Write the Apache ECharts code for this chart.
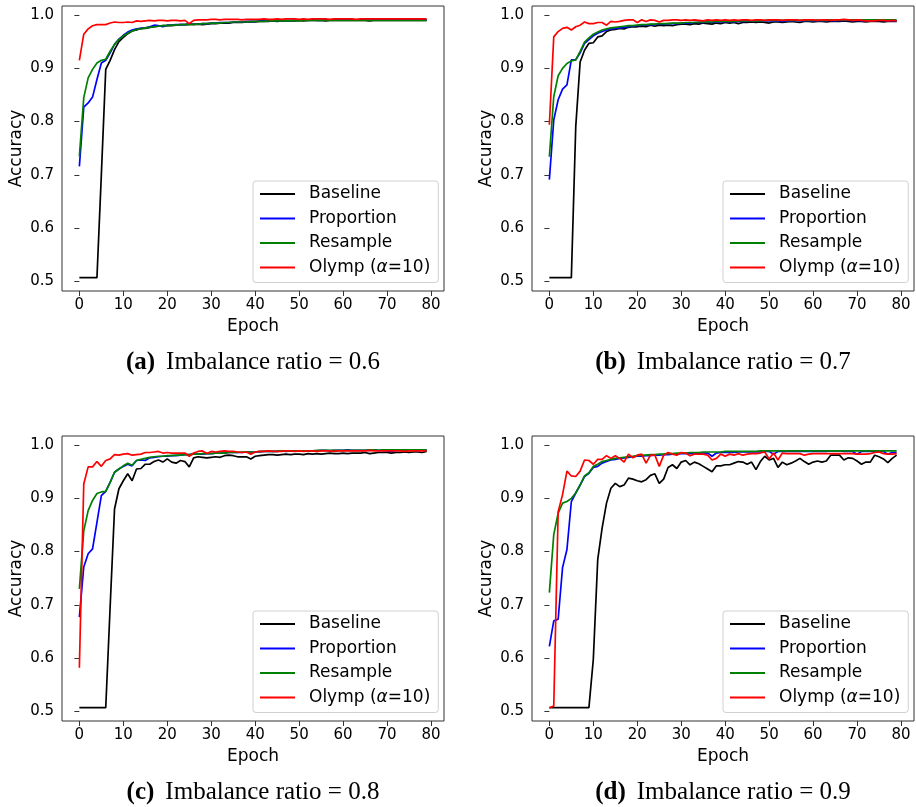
<!DOCTYPE html>
<html>
<head>
<meta charset="utf-8">
<script src="https://cdn.jsdelivr.net/npm/echarts@6/dist/echarts.min.js"></script>
<style>
  html, body { margin: 0; padding: 0; background: #fff; }
  #chart { width: 916px; height: 807px; }
</style>
</head>
<body>
<div id="chart"></div>
<script>
var seriesNames = ['Baseline', 'Proportion', 'Resample', 'Olymp (α=10)'];
var seriesColors = ['#000000', '#0000ff', '#008000', '#ff0000'];
var xTicks = [0, 10, 20, 30, 40, 50, 60, 70, 80];
var yTicks = [0.5, 0.6, 0.7, 0.8, 0.9, 1.0];

// (a) imbalance ratio 0.6
var baseA = [0.507,0.507,0.507,0.507,0.507,0.700,0.898,0.915,0.935,0.950,
  0.958,0.965,0.970,0.972,0.975,0.975,0.977,0.978,0.979,0.980,
  0.980,0.980,0.981,0.982,0.982,0.983,0.982,0.983,0.982,0.983,
  0.984,0.984,0.985,0.985,0.985,0.986,0.986,0.986,0.987,0.987,
  0.987,0.988,0.988,0.988,0.989,0.988,0.989,0.989,0.989,0.989,
  0.990,0.989,0.990,0.990,0.990,0.990,0.989,0.990,0.990,0.990,
  0.990,0.990,0.990,0.990,0.990,0.990,0.989,0.990,0.990,0.990,
  0.990,0.990,0.990,0.990,0.990,0.990,0.990,0.990,0.990,0.990];
var propA = [0.716,0.827,0.835,0.846,0.879,0.910,0.915,0.929,0.945,0.955,
  0.962,0.968,0.972,0.974,0.975,0.976,0.978,0.981,0.980,0.978,
  0.981,0.981,0.982,0.982,0.982,0.983,0.983,0.983,0.984,0.984,
  0.985,0.985,0.986,0.986,0.986,0.987,0.987,0.987,0.988,0.988,
  0.988,0.989,0.989,0.989,0.990,0.989,0.990,0.990,0.990,0.990,
  0.990,0.991,0.990,0.991,0.990,0.990,0.991,0.991,0.991,0.991,
  0.991,0.991,0.991,0.991,0.991,0.991,0.991,0.991,0.991,0.991,
  0.991,0.991,0.991,0.991,0.991,0.991,0.991,0.991,0.991,0.991];
var resA = [0.735,0.845,0.882,0.898,0.910,0.915,0.917,0.932,0.945,0.954,
  0.961,0.966,0.970,0.973,0.974,0.976,0.977,0.978,0.979,0.980,
  0.980,0.981,0.981,0.982,0.982,0.982,0.983,0.983,0.984,0.984,
  0.985,0.985,0.985,0.986,0.986,0.987,0.987,0.987,0.987,0.988,
  0.988,0.988,0.988,0.989,0.989,0.989,0.989,0.989,0.989,0.990,
  0.989,0.990,0.990,0.990,0.990,0.990,0.990,0.990,0.990,0.990,
  0.990,0.990,0.990,0.990,0.990,0.990,0.990,0.990,0.990,0.990,
  0.990,0.990,0.990,0.990,0.990,0.990,0.990,0.990,0.990,0.990];
var olyA = [0.915,0.964,0.974,0.980,0.982,0.982,0.982,0.985,0.987,0.986,
  0.986,0.987,0.986,0.989,0.988,0.989,0.990,0.989,0.990,0.990,
  0.989,0.990,0.990,0.989,0.990,0.984,0.990,0.991,0.991,0.991,
  0.992,0.992,0.991,0.992,0.992,0.992,0.992,0.991,0.992,0.992,
  0.992,0.992,0.993,0.992,0.992,0.993,0.992,0.993,0.993,0.993,
  0.992,0.993,0.992,0.993,0.993,0.993,0.993,0.992,0.993,0.993,
  0.993,0.993,0.993,0.992,0.993,0.993,0.993,0.993,0.993,0.993,
  0.993,0.993,0.993,0.993,0.993,0.993,0.993,0.993,0.993,0.993];

// (b) imbalance ratio 0.7
var baseB = [0.507,0.507,0.507,0.507,0.507,0.507,0.790,0.912,0.934,0.947,
  0.948,0.959,0.961,0.969,0.972,0.973,0.975,0.974,0.977,0.978,
  0.978,0.979,0.978,0.981,0.979,0.981,0.980,0.981,0.980,0.982,
  0.983,0.983,0.982,0.984,0.983,0.985,0.984,0.983,0.985,0.984,
  0.986,0.985,0.986,0.984,0.986,0.986,0.987,0.986,0.987,0.986,
  0.985,0.987,0.987,0.986,0.987,0.988,0.987,0.986,0.988,0.988,
  0.987,0.988,0.988,0.987,0.988,0.988,0.988,0.989,0.988,0.987,
  0.988,0.988,0.987,0.988,0.988,0.988,0.987,0.988,0.988,0.988];
var propB = [0.691,0.803,0.841,0.861,0.869,0.916,0.916,0.929,0.947,0.954,
  0.961,0.966,0.969,0.972,0.974,0.975,0.976,0.977,0.978,0.979,
  0.980,0.981,0.981,0.982,0.982,0.983,0.983,0.984,0.984,0.984,
  0.985,0.985,0.985,0.986,0.986,0.986,0.987,0.986,0.987,0.987,
  0.987,0.988,0.987,0.988,0.988,0.988,0.989,0.988,0.989,0.989,
  0.989,0.989,0.989,0.988,0.989,0.989,0.990,0.989,0.989,0.990,
  0.989,0.990,0.989,0.990,0.990,0.989,0.990,0.990,0.990,0.990,
  0.990,0.989,0.990,0.990,0.990,0.990,0.990,0.990,0.989,0.989];
var resB = [0.734,0.847,0.886,0.900,0.909,0.914,0.916,0.932,0.949,0.957,
  0.964,0.968,0.972,0.974,0.976,0.977,0.978,0.979,0.980,0.980,
  0.981,0.982,0.982,0.983,0.983,0.984,0.984,0.984,0.985,0.985,
  0.985,0.986,0.986,0.986,0.987,0.987,0.987,0.987,0.988,0.988,
  0.988,0.988,0.988,0.989,0.989,0.989,0.989,0.989,0.989,0.990,
  0.990,0.990,0.990,0.990,0.990,0.990,0.990,0.990,0.990,0.990,
  0.990,0.990,0.990,0.990,0.991,0.990,0.991,0.991,0.991,0.991,
  0.991,0.991,0.991,0.991,0.991,0.991,0.991,0.991,0.991,0.991];
var olyB = [0.794,0.959,0.969,0.975,0.977,0.972,0.978,0.981,0.987,0.984,
  0.984,0.986,0.986,0.981,0.988,0.987,0.988,0.990,0.991,0.991,
  0.986,0.991,0.988,0.991,0.990,0.987,0.990,0.990,0.991,0.991,
  0.990,0.991,0.990,0.991,0.990,0.989,0.991,0.990,0.991,0.990,
  0.991,0.990,0.991,0.990,0.991,0.991,0.990,0.991,0.991,0.990,
  0.991,0.991,0.991,0.990,0.991,0.991,0.991,0.990,0.991,0.991,
  0.991,0.990,0.991,0.991,0.990,0.991,0.991,0.992,0.991,0.990,
  0.991,0.990,0.989,0.989,0.989,0.990,0.990,0.989,0.990,0.989];

// (c) imbalance ratio 0.8
var baseC = [0.507,0.507,0.507,0.507,0.507,0.507,0.507,0.696,0.880,0.918,
  0.933,0.946,0.933,0.955,0.956,0.964,0.964,0.969,0.972,0.968,
  0.974,0.968,0.966,0.971,0.969,0.959,0.976,0.978,0.977,0.976,
  0.977,0.978,0.977,0.980,0.981,0.980,0.978,0.978,0.978,0.974,
  0.979,0.980,0.981,0.982,0.982,0.981,0.982,0.983,0.982,0.983,
  0.983,0.982,0.984,0.983,0.984,0.983,0.984,0.985,0.984,0.984,
  0.985,0.984,0.985,0.985,0.985,0.986,0.984,0.985,0.986,0.986,
  0.986,0.985,0.986,0.986,0.987,0.986,0.987,0.987,0.986,0.988];
var propC = [0.677,0.771,0.796,0.805,0.855,0.905,0.913,0.930,0.949,0.955,
  0.960,0.964,0.961,0.971,0.972,0.971,0.976,0.977,0.978,0.979,
  0.979,0.980,0.980,0.981,0.982,0.982,0.983,0.983,0.983,0.984,
  0.984,0.985,0.985,0.985,0.986,0.986,0.986,0.986,0.987,0.987,
  0.987,0.987,0.988,0.988,0.988,0.988,0.989,0.988,0.989,0.989,
  0.989,0.989,0.989,0.989,0.989,0.990,0.990,0.989,0.990,0.990,
  0.990,0.991,0.990,0.990,0.990,0.990,0.990,0.991,0.990,0.990,
  0.989,0.988,0.990,0.990,0.990,0.990,0.991,0.990,0.991,0.991];
var resC = [0.730,0.839,0.877,0.896,0.909,0.912,0.913,0.930,0.949,0.955,
  0.961,0.966,0.962,0.971,0.973,0.975,0.977,0.978,0.979,0.979,
  0.980,0.980,0.981,0.981,0.982,0.982,0.983,0.983,0.984,0.984,
  0.984,0.985,0.985,0.985,0.986,0.986,0.986,0.987,0.987,0.987,
  0.987,0.988,0.988,0.988,0.988,0.988,0.989,0.989,0.989,0.989,
  0.989,0.989,0.989,0.989,0.990,0.990,0.990,0.990,0.990,0.990,
  0.990,0.990,0.990,0.990,0.990,0.990,0.991,0.991,0.990,0.991,
  0.991,0.991,0.991,0.991,0.991,0.991,0.991,0.991,0.991,0.991];
var olyC = [0.582,0.927,0.959,0.959,0.969,0.960,0.971,0.974,0.982,0.981,
  0.983,0.984,0.981,0.982,0.983,0.986,0.986,0.987,0.988,0.985,
  0.986,0.985,0.985,0.985,0.985,0.979,0.985,0.988,0.989,0.984,
  0.988,0.987,0.988,0.989,0.988,0.988,0.987,0.986,0.987,0.983,
  0.987,0.988,0.988,0.989,0.988,0.988,0.988,0.989,0.989,0.988,
  0.989,0.988,0.989,0.989,0.988,0.989,0.989,0.989,0.988,0.989,
  0.989,0.989,0.989,0.989,0.989,0.989,0.990,0.989,0.989,0.989,
  0.989,0.989,0.989,0.989,0.988,0.989,0.989,0.989,0.989,0.989];

// (d) imbalance ratio 0.9
var baseD = [0.507,0.507,0.507,0.507,0.507,0.507,0.507,0.507,0.507,0.507,
  0.598,0.785,0.844,0.891,0.919,0.928,0.922,0.925,0.938,0.936,
  0.933,0.931,0.935,0.943,0.946,0.928,0.936,0.958,0.963,0.956,
  0.968,0.971,0.963,0.968,0.965,0.960,0.955,0.950,0.961,0.961,
  0.963,0.963,0.966,0.969,0.968,0.964,0.968,0.954,0.969,0.979,
  0.972,0.975,0.958,0.968,0.963,0.966,0.970,0.975,0.969,0.964,
  0.968,0.970,0.968,0.970,0.981,0.981,0.981,0.972,0.976,0.975,
  0.970,0.964,0.968,0.968,0.981,0.978,0.974,0.967,0.975,0.981];
var propD = [0.622,0.670,0.673,0.770,0.804,0.894,0.910,0.925,0.941,0.947,
  0.958,0.960,0.966,0.969,0.972,0.973,0.975,0.976,0.977,0.978,
  0.979,0.979,0.980,0.980,0.981,0.981,0.982,0.982,0.983,0.983,
  0.984,0.984,0.984,0.985,0.985,0.985,0.985,0.979,0.985,0.986,
  0.986,0.986,0.986,0.987,0.987,0.987,0.987,0.987,0.987,0.988,
  0.988,0.983,0.988,0.988,0.988,0.988,0.988,0.988,0.988,0.988,
  0.988,0.988,0.988,0.988,0.989,0.989,0.989,0.988,0.988,0.988,
  0.983,0.988,0.988,0.988,0.988,0.988,0.988,0.983,0.986,0.986];
var resD = [0.723,0.832,0.872,0.891,0.894,0.900,0.910,0.925,0.942,0.948,
  0.960,0.964,0.969,0.971,0.973,0.975,0.976,0.977,0.978,0.979,
  0.980,0.981,0.981,0.982,0.982,0.983,0.983,0.984,0.984,0.985,
  0.985,0.985,0.986,0.986,0.986,0.987,0.987,0.987,0.987,0.987,
  0.988,0.988,0.988,0.988,0.988,0.988,0.988,0.988,0.989,0.989,
  0.989,0.989,0.989,0.989,0.989,0.989,0.989,0.989,0.989,0.989,
  0.989,0.989,0.989,0.989,0.989,0.989,0.989,0.989,0.989,0.989,
  0.989,0.989,0.989,0.989,0.989,0.989,0.989,0.989,0.989,0.989];
var olyD = [0.507,0.510,0.875,0.907,0.951,0.942,0.941,0.951,0.972,0.971,
  0.964,0.973,0.973,0.980,0.975,0.980,0.975,0.968,0.983,0.976,
  0.981,0.983,0.966,0.981,0.981,0.960,0.981,0.986,0.983,0.981,
  0.986,0.985,0.980,0.983,0.983,0.983,0.981,0.972,0.975,0.983,
  0.979,0.983,0.981,0.984,0.981,0.983,0.984,0.984,0.985,0.987,
  0.974,0.985,0.972,0.985,0.984,0.984,0.984,0.984,0.981,0.983,
  0.984,0.984,0.984,0.984,0.984,0.984,0.984,0.984,0.984,0.984,
  0.983,0.983,0.983,0.984,0.986,0.987,0.984,0.983,0.983,0.984];

var panelLabels = ['(a)', '(b)', '(c)', '(d)'];
var panelRatios = ['0.6', '0.7', '0.8', '0.9'];
var panelData = [
  [baseA, propA, resA, olyA],
  [baseB, propB, resB, olyB],
  [baseC, propC, resC, olyC],
  [baseD, propD, resD, olyD]
];

// plot boxes (left, top) in px, matplotlib-like 2x2 layout
var boxes = [[62, 6], [532, 6], [62, 436], [532, 436]];
var boxW = 382, boxH = 285;

var axisFont = 'DejaVu Sans';
var chart = echarts.init(document.getElementById('chart'), null, {renderer: 'canvas'});

var grids = [], xAxes = [], yAxes = [], series = [], legends = [], titles = [];

boxes.forEach(function (b, p) {
  grids.push({
    left: b[0], top: b[1], width: boxW, height: boxH,
    show: true, borderColor: '#333', borderWidth: 1, backgroundColor: '#fff'
  });
  xAxes.push({
    type: 'value', gridIndex: p, min: -3.95, max: 82.95,
    name: 'Epoch', nameLocation: 'middle', nameGap: 27,
    nameTextStyle: {fontFamily: axisFont, fontSize: 17, color: '#000'},
    axisLine: {show: false},
    axisTick: {show: true, inside: false, length: 5, customValues: xTicks, lineStyle: {color: '#333'}},
    axisLabel: {customValues: xTicks, margin: 7, fontFamily: axisFont, fontSize: 15, color: '#000'},
    splitLine: {show: false}
  });
  yAxes.push({
    type: 'value', gridIndex: p, min: 0.482, max: 1.017,
    name: 'Accuracy', nameLocation: 'middle', nameGap: 37,
    nameTextStyle: {fontFamily: axisFont, fontSize: 17, color: '#000'},
    axisLine: {show: false},
    axisTick: {show: true, inside: false, length: 5, customValues: yTicks, lineStyle: {color: '#333'}},
    axisLabel: {
      customValues: yTicks, margin: 8, fontFamily: axisFont, fontSize: 15, color: '#000',
      formatter: function (v) { return v.toFixed(1); }
    },
    splitLine: {show: false}
  });
  panelData[p].forEach(function (vals, s) {
    series.push({
      name: seriesNames[s], type: 'line', xAxisIndex: p, yAxisIndex: p,
      data: vals.map(function (v, i) { return [i, v]; }),
      symbol: 'none', smooth: false,
      lineStyle: {color: seriesColors[s], width: 1.7},
      itemStyle: {color: seriesColors[s]},
      animation: false, z: 2 + s
    });
  });
  legends.push({
    data: seriesNames, orient: 'vertical',
    left: b[0] + 191, top: b[1] + 175,
    itemWidth: 35, itemHeight: 14, itemGap: 4.5,
    padding: [3, 8, 5, 6],
    borderColor: '#d0d0d0', borderWidth: 1, borderRadius: 3,
    backgroundColor: 'rgba(255,255,255,0.8)',
    selectedMode: false,
    itemStyle: {opacity: 0},
    lineStyle: {width: 2},
    formatter: function (name) {
      if (name === 'Olymp (α=10)') return '{p|Olymp (}{i|α}{n|=10)}';
      return '{p|' + name + '}';
    },
    textStyle: {
      fontFamily: axisFont, fontSize: 17, color: '#000', lineHeight: 20,
      rich: {
        p: {fontFamily: axisFont, fontSize: 17, padding: [0, 0, 0, 9], color: '#000'},
        n: {fontFamily: axisFont, fontSize: 17, color: '#000'},
        i: {fontFamily: axisFont, fontSize: 17, fontStyle: 'italic', color: '#000'}
      }
    }
  });
  titles.push({
    text: '{b|' + panelLabels[p] + '}Imbalance ratio = ' + panelRatios[p],
    left: b[0] + boxW / 2 - 5, top: b[1] + 339, textAlign: 'center',
    textStyle: {
      fontFamily: 'Liberation Serif', fontSize: 25, fontWeight: 'normal', color: '#000',
      rich: {b: {fontFamily: 'Liberation Serif', fontSize: 25, fontWeight: 'bold', color: '#000', padding: [0, 11, 0, 0]}}
    }
  });
});

chart.setOption({
  backgroundColor: '#fff',
  animation: false,
  title: titles,
  grid: grids,
  xAxis: xAxes,
  yAxis: yAxes,
  legend: legends,
  series: series
});
</script>
</body>
</html>
